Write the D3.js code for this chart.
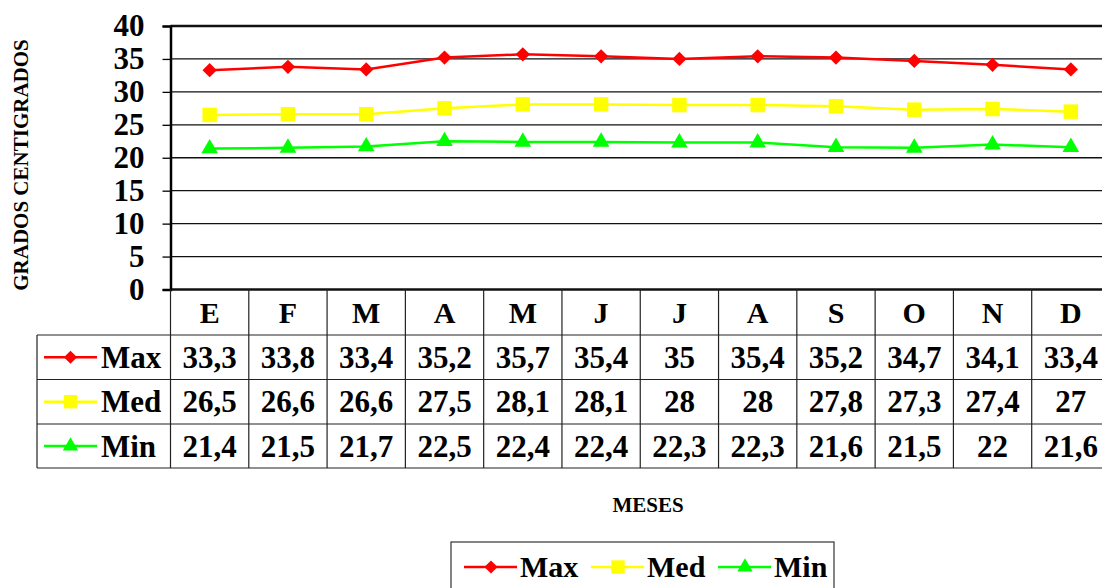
<!DOCTYPE html>
<html>
<head>
<meta charset="utf-8">
<script src="https://cdn.jsdelivr.net/npm/d3@7"></script>
<style>
  body { margin: 0; background: #fff; }
  text { font-family: "Liberation Serif", "Times New Roman", serif; font-weight: bold; }
</style>
</head>
<body>
<svg id="chart" width="1102" height="588"></svg>
<script>
let months = ["E", "F", "M", "A", "M", "J", "J", "A", "S", "O", "N", "D"];
let maxVals = [33.3, 33.8, 33.4, 35.2, 35.7, 35.4, 35, 35.4, 35.2, 34.7, 34.1, 33.4];
let medVals = [26.5, 26.6, 26.6, 27.5, 28.1, 28.1, 28, 28, 27.8, 27.3, 27.4, 27];
let minVals = [21.4, 21.5, 21.7, 22.5, 22.4, 22.4, 22.3, 22.3, 21.6, 21.5, 22, 21.6];
let yTicks = [0, 5, 10, 15, 20, 25, 30, 35, 40];
let seriesNames = ["Max", "Med", "Min"];

let series = [
  { name: seriesNames[0], values: maxVals, color: "#ff0000", symbol: d3.symbolDiamond2, size: 130 },
  { name: seriesNames[1], values: medVals, color: "#ffff00", symbol: d3.symbolSquare, size: 210 },
  { name: seriesNames[2], values: minVals, color: "#00ff00", symbol: d3.symbolTriangle, size: 120 }
];

let svg = d3.select("#chart"),
    pLeft = 170.5, pRight = 1110, pTop = 26, pBottom = 289.5;

let x = d3.scaleBand()
    .domain(d3.range(months.length))
    .range([pLeft, pRight]);

let y = d3.scaleLinear()
    .domain([0, 40])
    .range([pBottom, pTop]);

let fmt = function(v) { return String(v).replace(".", ","); };

// grid lines
svg.append("g")
  .selectAll("line")
  .data(yTicks)
  .enter().append("line")
    .attr("x1", pLeft).attr("x2", pRight)
    .attr("y1", function(d) { return y(d); })
    .attr("y2", function(d) { return y(d); })
    .attr("stroke", "#111")
    .attr("stroke-width", function(d) { return (d === 0 || d === 40) ? 2.5 : 1.3; });

// y axis
let yAxis = svg.append("g")
    .attr("transform", "translate(" + pLeft + ",0)")
    .call(d3.axisLeft(y).tickValues(yTicks).tickSize(8).tickPadding(18));
yAxis.select(".domain").attr("stroke", "#000").attr("stroke-width", 2.5);
yAxis.selectAll(".tick line").attr("stroke", "#000").attr("stroke-width", 1.3);
yAxis.selectAll(".tick text")
    .attr("font-size", 31)
    .attr("fill", "#000");

svg.append("text")
    .attr("transform", "translate(28,165) rotate(-90)")
    .attr("text-anchor", "middle")
    .attr("font-size", 21)
    .text("GRADOS CENTIGRADOS");

// lines and markers
let line = d3.line()
    .x(function(d, i) { return x(i) + x.bandwidth() / 2; })
    .y(function(d) { return y(d); });

series.forEach(function(s) {
  svg.append("path")
      .datum(s.values)
      .attr("fill", "none")
      .attr("stroke", s.color)
      .attr("stroke-width", 2.5)
      .attr("d", line);

  svg.append("g")
    .selectAll("path")
    .data(s.values)
    .enter().append("path")
      .attr("transform", function(d, i) { return "translate(" + (x(i) + x.bandwidth() / 2) + "," + y(d) + ")"; })
      .attr("d", d3.symbol().type(s.symbol).size(s.size))
      .attr("fill", s.color);
});

// data table
let rowTops = [289.5, 335, 379.5, 424, 468];
let tbl = svg.append("g").attr("stroke", "#222").attr("stroke-width", 1.2);

rowTops.slice(1).forEach(function(ry) {
  tbl.append("line").attr("x1", 37).attr("x2", pRight).attr("y1", ry).attr("y2", ry);
});
tbl.append("line").attr("x1", 37).attr("x2", 37).attr("y1", rowTops[1]).attr("y2", rowTops[4]);
d3.range(months.length + 1).forEach(function(i) {
  let xx = i < months.length ? x(i) : pRight;
  tbl.append("line").attr("x1", xx).attr("x2", xx).attr("y1", rowTops[0]).attr("y2", rowTops[4]);
});

svg.append("g")
  .selectAll("text")
  .data(months)
  .enter().append("text")
    .attr("x", function(d, i) { return x(i) + x.bandwidth() / 2; })
    .attr("y", 323)
    .attr("text-anchor", "middle")
    .attr("font-size", 30)
    .text(function(d) { return d; });

series.forEach(function(s, r) {
  let cy = (rowTops[r + 1] + rowTops[r + 2]) / 2;
  svg.append("g")
    .selectAll("text")
    .data(s.values)
    .enter().append("text")
      .attr("x", function(d, i) { return x(i) + x.bandwidth() / 2; })
      .attr("y", cy + 10.5)
      .attr("text-anchor", "middle")
      .attr("font-size", 31)
      .text(fmt);

  // row key
  svg.append("line")
      .attr("x1", 44).attr("x2", 97).attr("y1", cy).attr("y2", cy)
      .attr("stroke", s.color).attr("stroke-width", 2.5);
  svg.append("path")
      .attr("transform", "translate(70.5," + cy + ")")
      .attr("d", d3.symbol().type(s.symbol).size(s.size * 0.85))
      .attr("fill", s.color);
  svg.append("text")
      .attr("x", 101).attr("y", cy + 10.5)
      .attr("font-size", 31)
      .text(s.name);
});

svg.append("text")
    .attr("x", 648).attr("y", 512)
    .attr("text-anchor", "middle")
    .attr("font-size", 21)
    .text("MESES");

// legend
svg.append("rect")
    .attr("x", 451).attr("y", 542)
    .attr("width", 383).attr("height", 60)
    .attr("fill", "#fff").attr("stroke", "#333").attr("stroke-width", 1.2);

let legend = svg.append("g")
  .selectAll("g")
  .data(series)
  .enter().append("g")
    .attr("transform", function(d, i) { return "translate(" + (464 + i * 127) + ",567)"; });

legend.append("line")
    .attr("x1", 0).attr("x2", 53)
    .attr("stroke", function(d) { return d.color; })
    .attr("stroke-width", 2.5);
legend.append("path")
    .attr("transform", "translate(27,0)")
    .attr("d", function(d) { return d3.symbol().type(d.symbol).size(d.size * 0.85)(); })
    .attr("fill", function(d) { return d.color; });
legend.append("text")
    .attr("x", 56).attr("y", 10)
    .attr("font-size", 30)
    .text(function(d) { return d.name; });
</script>
</body>
</html>
